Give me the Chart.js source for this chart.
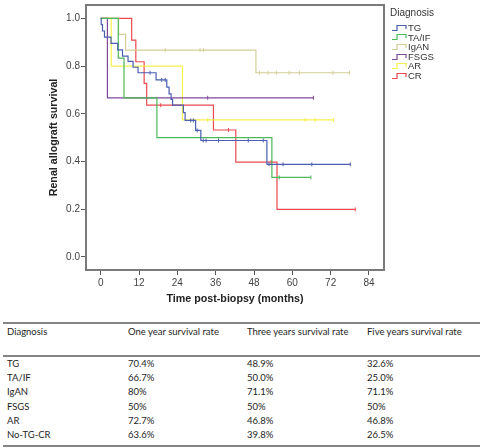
<!DOCTYPE html>
<html>
<head>
<meta charset="utf-8">
<script src="https://cdn.jsdelivr.net/npm/chart.js@4.4.0/dist/chart.umd.min.js"></script>
<style>
body{margin:0;background:#fff;width:484px;height:448px;overflow:hidden;position:relative;font-family:"Liberation Sans",Arial,sans-serif;}
#km{position:absolute;left:0;top:0;}
#legend{position:absolute;left:390px;top:6px;color:#333;}
#legend .ttl{font-size:10px;line-height:14px;margin-bottom:3px;}
#legend .row{display:flex;align-items:center;height:9.6px;font-size:9.5px;line-height:9.6px;}
#legend svg{margin-left:2px;margin-right:1px;}
#tbl{position:absolute;left:3px;top:322px;}
table{border-collapse:collapse;table-layout:fixed;width:477px;font-family:Lato,"Open Sans",sans-serif;font-size:9.5px;color:#1e1e1e;border-top:2px solid #858585;border-bottom:2px solid #858585;}
th{font-weight:normal;text-align:left;vertical-align:top;padding:2px 0 17px 4px;border-bottom:2px solid #858585;line-height:12px;height:12px;}
td{padding:0 0 0 4px;height:14.2px;line-height:14.2px;white-space:nowrap;}
tbody tr:last-child td{padding-bottom:3px;}
</style>
</head>
<body>
<canvas id="km" width="484" height="310"></canvas>
<div id="legend"></div>
<div id="tbl"></div>
<script>
// Kaplan-Meier curves (months, survival after the step)
const groups = ['TG', 'TA/IF', 'IgAN', 'FSGS', 'AR', 'CR'];

const tgTime = [0, 0.16, 0.56, 1.19, 3.23, 5.33, 6.83, 8.56, 10.13, 11.69, 17.34, 20.69, 21.41, 22.04, 22.51, 25.89, 26.43, 29.72, 31.35, 52.04, 78.15];
const tgSurv = [1.0, 0.974, 0.947, 0.921, 0.895, 0.868, 0.842, 0.82, 0.795, 0.772, 0.742, 0.712, 0.683, 0.66, 0.636, 0.605, 0.572, 0.53, 0.488, 0.388, 0.388];
const tgCensor = [15.45, 19.1, 20.2, 28.2, 29.0, 30.2, 32.1, 33.0, 36.9, 46.2, 50.9, 52.7, 57.1, 66.1, 78.15];

const taifTime = [0, 5.5, 7.3, 17.6, 53.6, 65.8];
const taifSurv = [1.0, 0.833, 0.667, 0.5, 0.333, 0.333];
const taifCensor = [55.9, 65.8];

const iganTime = [0, 5.6, 7.8, 48.6, 77.9];
const iganSurv = [1.0, 0.933, 0.867, 0.772, 0.772];
const iganCensor = [20.2, 31.1, 32.2, 49.7, 52.4, 55.0, 59.0, 62.2, 72.7, 77.9];

const fsgsTime = [0, 2.1, 66.6];
const fsgsSurv = [1.0, 0.667, 0.667];
const fsgsCensor = [33.5, 66.6];

const arTime = [0, 3.3, 25.6, 72.9];
const arSurv = [1.0, 0.8, 0.574, 0.574];
const arCensor = [33.5, 64.0, 67.2, 72.9];

const crTime = [0, 9.7, 11.0, 13.6, 14.4, 35.3, 42.3, 55.2, 79.7];
const crSurv = [1.0, 0.909, 0.818, 0.727, 0.636, 0.532, 0.397, 0.199, 0.199];
const crCensor = [18.8, 40.0, 53.4, 79.7];

const xTicks = [0, 12, 24, 36, 48, 60, 72, 84];
const yTicks = [0, 0.2, 0.4, 0.6, 0.8, 1.0];

// table below the chart
const tableHead = ['Diagnosis', 'One year survival rate', 'Three years survival rate', 'Five years survival rate'];
const tableDiag = ['TG', 'TA/IF', 'IgAN', 'FSGS', 'AR', 'No-TG-CR'];
const oneYear = ['70.4%', '66.7%', '80%', '50%', '72.7%', '63.6%'];
const threeYear = ['48.9%', '50.0%', '71.1%', '50%', '46.8%', '39.8%'];
const fiveYear = ['32.6%', '25.0%', '71.1%', '50%', '46.8%', '26.5%'];

const colors = ['#4a5eb2', '#4cb95a', '#d3ce97', '#7d4a9a', '#f6f14e', '#ec4a4e'];

const series = [
  {time: tgTime, surv: tgSurv, censor: tgCensor},
  {time: taifTime, surv: taifSurv, censor: taifCensor},
  {time: iganTime, surv: iganSurv, censor: iganCensor},
  {time: fsgsTime, surv: fsgsSurv, censor: fsgsCensor},
  {time: arTime, surv: arSurv, censor: arCensor},
  {time: crTime, surv: crSurv, censor: crCensor}
];

function survAt(time, surv, t) {
  let s = surv[0];
  for (let i = 0; i < time.length; i++) {
    if (time[i] <= t) s = surv[i];
  }
  return s;
}

let datasets = [];
series.forEach((s, i) => {
  datasets.push({
    type: 'line',
    label: groups[i],
    data: s.time.map((t, j) => ({x: t, y: s.surv[j]})),
    stepped: true,
    borderColor: colors[i],
    borderWidth: 1.2,
    pointRadius: 0,
    fill: false
  });
  datasets.push({
    type: 'scatter',
    label: groups[i] + '-censored',
    data: s.censor.map(t => ({x: t, y: survAt(s.time, s.surv, t)})),
    pointStyle: 'line',
    rotation: 90,
    pointRadius: 2,
    borderColor: colors[i],
    borderWidth: 1,
    showLine: false
  });
});

const framePlugin = {
  id: 'frame',
  afterDraw(chart) {
    const {ctx, chartArea: a} = chart;
    ctx.save();
    ctx.strokeStyle = '#7a7a7a';
    ctx.lineWidth = 2;
    ctx.strokeRect(a.left, a.top, a.right - a.left, a.bottom - a.top);
    ctx.restore();
  }
};

Chart.defaults.font.family = '"Liberation Sans", Arial, sans-serif';

new Chart(document.getElementById('km'), {
  type: 'line',
  data: {datasets: datasets},
  options: {
    responsive: false,
    animation: false,
    layout: {padding: {left: 0, right: 100, top: 4, bottom: 0}},
    plugins: {legend: {display: false}, tooltip: {enabled: false}},
    scales: {
      x: {
        type: 'linear',
        min: -4.6,
        max: 88.7,
        afterBuildTicks: s => { s.ticks = xTicks.map(v => ({value: v})); },
        afterFit: s => { s.height = 40; s.paddingLeft = 0; s.paddingRight = 0; },
        grid: {drawOnChartArea: false, drawTicks: true, tickLength: 5, color: '#555'},
        border: {display: false},
        ticks: {padding: 2, color: '#444', font: {size: 10}, maxRotation: 0},
        title: {display: true, text: 'Time post-biopsy (months)', color: '#222',
          font: {size: 10.7, weight: 'bold'}, padding: {top: 0, bottom: 4.6}}
      },
      y: {
        min: -0.055,
        max: 1.056,
        afterBuildTicks: s => { s.ticks = yTicks.map(v => ({value: v})); },
        afterFit: s => { s.width = 86; s.paddingTop = 0; s.paddingBottom = 0; },
        grid: {drawOnChartArea: false, drawTicks: true, tickLength: 5, color: '#555'},
        border: {display: false},
        ticks: {padding: 1, color: '#444', font: {size: 10}, callback: v => v.toFixed(1)},
        title: {display: true, text: 'Renal allograft survival', color: '#222',
          font: {size: 10.7, weight: 'bold'}, padding: {top: 48, bottom: 0}}
      }
    }
  },
  plugins: [framePlugin]
});

// legend
let lg = '<div class="ttl">Diagnosis</div>';
groups.forEach((g, i) => {
  lg += '<div class="row"><svg width="15" height="8"><polyline points="0,6.5 5,6.5 5,1.5 14,1.5 14,5" fill="none" stroke="' +
    colors[i] + '" stroke-width="1.2"/></svg><span>' + g + '</span></div>';
});
document.getElementById('legend').innerHTML = lg;

// table
let html = '<table><colgroup><col style="width:121px"><col style="width:119px"><col style="width:120px"><col style="width:117px"></colgroup>';
html += '<thead><tr>' + tableHead.map(h => '<th>' + h + '</th>').join('') + '</tr></thead><tbody>';
tableDiag.forEach((d, i) => {
  html += '<tr><td>' + d + '</td><td>' + oneYear[i] + '</td><td>' + threeYear[i] + '</td><td>' + fiveYear[i] + '</td></tr>';
});
html += '</tbody></table>';
document.getElementById('tbl').innerHTML = html;
</script>
</body>
</html>
